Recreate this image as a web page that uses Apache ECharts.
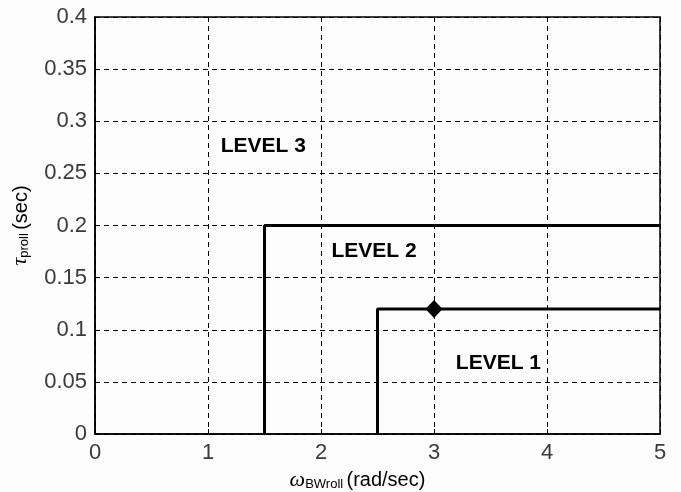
<!DOCTYPE html>
<html>
<head>
<meta charset="utf-8">
<script src="https://cdn.jsdelivr.net/npm/echarts@6/dist/echarts.min.js"></script>
<style>html,body{margin:0;padding:0;background:#fcfcfc;}#c{width:681px;height:492px;}</style>
</head>
<body>
<div id="c"></div>
<script>
var xTicks = [0, 1, 2, 3, 4, 5];
var yTicks = [0, 0.05, 0.1, 0.15, 0.2, 0.25, 0.3, 0.35, 0.4];
var level2Boundary = [[1.5, 0], [1.5, 0.2], [5, 0.2]];
var level1Boundary = [[2.5, 0], [2.5, 0.12], [5, 0.12]];
var designPoint = [[3, 0.12]];
var levelLabels = ['LEVEL 3', 'LEVEL 2', 'LEVEL 1'];
var levelLabelPos = [[1.49, 0.276], [2.47, 0.175], [3.57, 0.068]];

var chart = echarts.init(document.getElementById('c'));
var tickFont = {fontFamily: 'Liberation Sans', fontSize: 22, color: '#3a3a3a'};
chart.setOption({
  backgroundColor: '#fcfcfc',
  animation: false,
  grid: {left: 95, right: 21, top: 17, bottom: 58, containLabel: false, outerBoundsMode: 'none', show: true, borderColor: '#000', borderWidth: 1.5, backgroundColor: 'transparent'},
  xAxis: {
    type: 'value', min: xTicks[0], max: xTicks[xTicks.length - 1], interval: 1,
    axisLine: {show: true, lineStyle: {color: '#000', width: 1.5}},
    axisTick: {show: true, inside: true, length: 5, lineStyle: {color: '#000'}},
    axisLabel: Object.assign({margin: 8, formatter: function (v) { return String(v); }}, tickFont),
    splitLine: {show: true, lineStyle: {color: '#000', type: [5, 4], width: 1}},
    name: '{w|ω}{s|BWroll} {n|(rad/sec)}',
    nameLocation: 'middle', nameGap: 30,
    nameTextStyle: {
      padding: [0, 40, 0, 0],
      rich: {
        w: {fontFamily: 'Liberation Serif', fontStyle: 'italic', fontSize: 22, color: '#000', verticalAlign: 'bottom', lineHeight: 24},
        s: {fontFamily: 'Liberation Sans', fontSize: 13, color: '#000', verticalAlign: 'bottom', lineHeight: 18},
        n: {fontFamily: 'Liberation Sans', fontSize: 20, color: '#000', verticalAlign: 'bottom', lineHeight: 24}
      }
    }
  },
  yAxis: {
    type: 'value', min: yTicks[0], max: yTicks[yTicks.length - 1], interval: 0.05,
    axisLine: {show: true, lineStyle: {color: '#000', width: 1.5}},
    axisTick: {show: true, inside: true, length: 5, lineStyle: {color: '#000'}},
    axisLabel: Object.assign({margin: 8, formatter: function (v) { return String(+v.toFixed(2)); }}, tickFont),
    splitLine: {show: true, lineStyle: {color: '#000', type: [5, 4], width: 1}},
    name: '{w|τ}{s|proll} {n|(sec)}',
    nameLocation: 'middle', nameGap: 64, nameRotate: 90,
    nameTextStyle: {
      rich: {
        w: {fontFamily: 'Liberation Serif', fontStyle: 'italic', fontSize: 22, color: '#000', verticalAlign: 'bottom', lineHeight: 24},
        s: {fontFamily: 'Liberation Sans', fontSize: 13, color: '#000', verticalAlign: 'bottom', lineHeight: 18},
        n: {fontFamily: 'Liberation Sans', fontSize: 20, color: '#000', verticalAlign: 'bottom', lineHeight: 24}
      }
    }
  },
  series: [
    {type: 'line', data: level2Boundary, symbol: 'none', lineStyle: {color: '#000', width: 3}, z: 5},
    {type: 'line', data: level1Boundary, symbol: 'none', lineStyle: {color: '#000', width: 3}, z: 5},
    {type: 'scatter', data: designPoint, symbol: 'diamond', symbolSize: [17, 18], itemStyle: {color: '#000', opacity: 1}, z: 6},
    {type: 'scatter', symbolSize: 0, z: 7, itemStyle: {opacity: 1},
      data: levelLabelPos.map(function (p, i) { return {value: p, name: levelLabels[i]}; }),
      label: {show: true, position: 'inside', formatter: '{b}', fontFamily: 'Liberation Sans', fontWeight: 'bold', fontSize: 21, color: '#000', opacity: 1}
    }
  ]
});
</script>
</body>
</html>
